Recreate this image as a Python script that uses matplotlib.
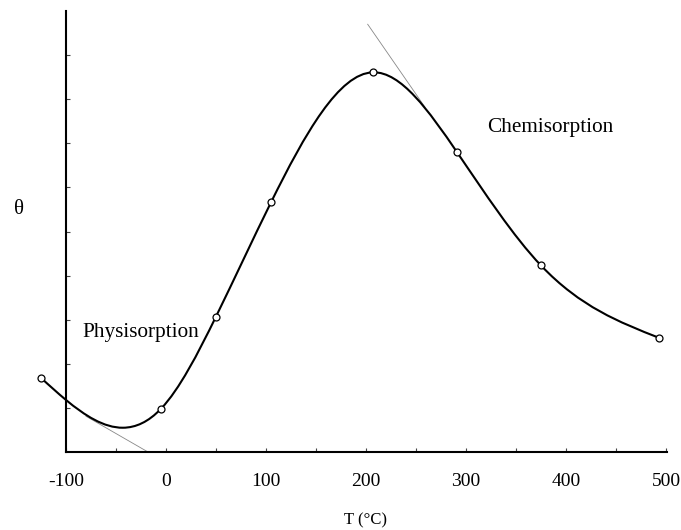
import matplotlib
matplotlib.use('Agg')
import matplotlib.pyplot as plt
import numpy as np
from matplotlib.path import Path
from matplotlib.patches import PathPatch

plt.rcParams['font.family'] = ['Liberation Serif', 'DejaVu Serif']

# measured points (open circles)
temps = [-125, -5, 50, 105, 207, 291, 375, 493]
theta = [1.68, 0.98, 3.07, 5.66, 8.61, 6.80, 4.23, 2.59]

# curve goes through the circles plus the low dip
curve_t = [-125, -100, -43, -5, 50, 105, 207, 291, 375, 493]
curve_y = [1.68, 1.18, 0.55, 0.98, 3.07, 5.66, 8.61, 6.80, 4.23, 2.59]

# thin tangent lines
tan_low_t = [-80, -18]
tan_low_y = [0.81, 0.0]
tan_high_t = [201.7, 259]
tan_high_y = [9.70, 7.82]

x_ticks = np.arange(-100, 501, 50)
x_labels = ['-100', '', '0', '', '100', '', '200', '', '300', '', '400', '', '500']


def smooth_path(xs, ys):
    # natural cubic spline through the points, drawn as bezier segments
    x = np.asarray(xs, float)
    y = np.asarray(ys, float)
    n = len(x)
    h = np.diff(x)
    A = np.zeros((n, n))
    b = np.zeros(n)
    A[0, 0] = A[-1, -1] = 1
    for i in range(1, n - 1):
        A[i, i - 1] = h[i - 1]
        A[i, i] = 2 * (h[i - 1] + h[i])
        A[i, i + 1] = h[i]
        b[i] = 6 * ((y[i + 1] - y[i]) / h[i] - (y[i] - y[i - 1]) / h[i - 1])
    M = np.linalg.solve(A, b)
    m = np.zeros(n)
    for i in range(n - 1):
        m[i] = (y[i + 1] - y[i]) / h[i] - h[i] * (2 * M[i] + M[i + 1]) / 6
    m[-1] = (y[-1] - y[-2]) / h[-1] + h[-1] * (M[-2] + 2 * M[-1]) / 6
    verts = [(x[0], y[0])]
    codes = [Path.MOVETO]
    for i in range(n - 1):
        verts += [(x[i] + h[i] / 3, y[i] + m[i] * h[i] / 3),
                  (x[i + 1] - h[i] / 3, y[i + 1] - m[i + 1] * h[i] / 3),
                  (x[i + 1], y[i + 1])]
        codes += [Path.CURVE4] * 3
    return Path(verts, codes)


fig = plt.figure(figsize=(6.81, 5.30), dpi=100)
ax = fig.add_axes([0.0969, 0.1472, 0.8825, 0.832])
ax.set_xlim(-100, 501)
ax.set_ylim(0, 10)

ax.plot(tan_low_t, tan_low_y, color='#888888', lw=0.6, zorder=1)
ax.plot(tan_high_t, tan_high_y, color='#888888', lw=0.6, zorder=1)

patch = PathPatch(smooth_path(curve_t, curve_y), fill=False, edgecolor='black', lw=1.5,
                  clip_on=False, zorder=2)
ax.add_patch(patch)
ax.plot(temps, theta, 'o', ms=5, mfc='white', mec='black', mew=0.9, clip_on=False, zorder=3)

for s in ['top', 'right']:
    ax.spines[s].set_visible(False)
for s in ['left', 'bottom']:
    ax.spines[s].set_linewidth(1.5)

ax.set_xticks(x_ticks)
ax.set_xticklabels(x_labels)
ax.set_yticks(np.arange(1, 10))
ax.set_yticklabels([])
ax.tick_params(axis='both', direction='in', length=3, width=0.8, color='#444444',
               labelsize=14, pad=15)

ax.text(-147, 5.51, 'θ', fontsize=15, ha='center', va='center', clip_on=False)
ax.text(-25, 2.70, 'Physisorption', fontsize=15.3, ha='center', va='center')
ax.text(384, 7.36, 'Chemisorption', fontsize=15.3, ha='center', va='center')
ax.text(200, -1.55, 'T (°C)', fontsize=12, ha='center', va='center', clip_on=False)

fig.savefig('out.png', dpi=100)
